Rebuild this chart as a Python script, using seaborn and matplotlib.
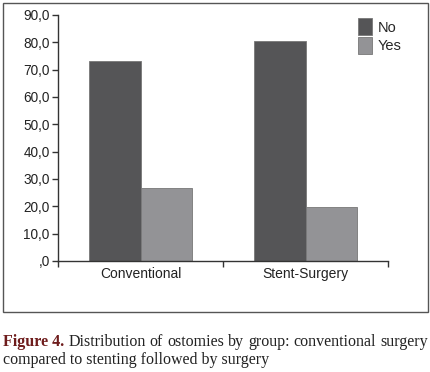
import matplotlib
matplotlib.use("Agg")
import matplotlib.pyplot as plt
import seaborn as sns
import pandas as pd
from matplotlib.patches import Rectangle

groups = ["Conventional", "Stent-Surgery"]
answers = ["No", "Yes"]
no_values = [73.3, 80.4]
yes_values = [26.7, 19.6]
y_ticks = [0, 10, 20, 30, 40, 50, 60, 70, 80, 90]
caption_bold = "Figure 4."
caption_line1 = "Distribution of ostomies by group: conventional surgery"
caption_line2 = "compared to stenting followed by surgery"

df = pd.DataFrame({
    "group": groups * 2,
    "answer": ["No"] * len(groups) + ["Yes"] * len(groups),
    "value": no_values + yes_values,
})

sns.set_style("white")
plt.rcParams["font.family"] = ["Liberation Sans", "DejaVu Sans"]

W, H = 430, 372
fig = plt.figure(figsize=(W / 100, H / 100), dpi=100)

# outer frame around the chart
fig.patches.append(Rectangle((3 / W, 1 - 312 / H), 425 / W, 309 / H,
                             transform=fig.transFigure, fill=False,
                             edgecolor="#555555", linewidth=1.0))

ax = fig.add_axes([58 / W, 1 - 261 / H, 330 / W, 246 / H])
palette = {"No": "#555557", "Yes": "#939396"}
sns.barplot(data=df, x="group", y="value", hue="answer", hue_order=answers,
            palette=palette, width=0.62, saturation=1, ax=ax,
            edgecolor="#777777", linewidth=0.6)

ax.set_ylim(0, 90)
ax.set_xlim(-0.5, 1.5)
ax.set_yticks(y_ticks)
ax.set_yticklabels([",0"] + [f"{v},0" for v in y_ticks[1:]], fontsize=9.8,
                   color="#222222")
ax.tick_params(axis="y", direction="out", length=4, width=1, color="#333333",
               left=True, pad=2)
ax.set_xticks([-0.5, 0.5, 1.5])
ax.set_xticklabels([])
ax.tick_params(axis="x", which="major", direction="out", length=4, width=1,
               color="#333333", bottom=True)
ax.set_xticks([0, 1], minor=True)
ax.set_xticklabels(groups, minor=True, fontsize=10, color="#222222")
ax.tick_params(axis="x", which="minor", length=0, pad=4)
ax.set_xlabel("")
ax.set_ylabel("")
for s in ["top", "right"]:
    ax.spines[s].set_visible(False)
for s in ["left", "bottom"]:
    ax.spines[s].set_color("#333333")
    ax.spines[s].set_linewidth(1.0)

leg = ax.legend(title=None, loc="upper left", bbox_to_anchor=(0.89, 1.01),
                frameon=False, fontsize=10.5, handlelength=1.0,
                handleheight=1.4, handletextpad=0.4, labelspacing=0.1,
                borderaxespad=0)

# caption, justified first line
serif = ["Liberation Serif", "DejaVu Serif"]
fs = 11.5
renderer = fig.canvas.get_renderer()
words = caption_line1.split()
y1 = 1 - 342 / H
y2 = 1 - 360 / H
texts = [fig.text(0, y1, caption_bold, family=serif, fontsize=fs,
                  fontweight="bold", color="#6e1c1c", va="center")]
texts += [fig.text(0, y1, w, family=serif, fontsize=fs, color="#222222",
                   va="center") for w in words]
widths = [t.get_window_extent(renderer).width for t in texts]
gap = (425 - sum(widths)) / (len(texts) - 1)
x = 3
for t, w in zip(texts, widths):
    t.set_x(x / W)
    x += w + gap
fig.text(3 / W, y2, caption_line2, family=serif, fontsize=fs,
         color="#222222", va="center")

fig.savefig("out.png", dpi=100)
